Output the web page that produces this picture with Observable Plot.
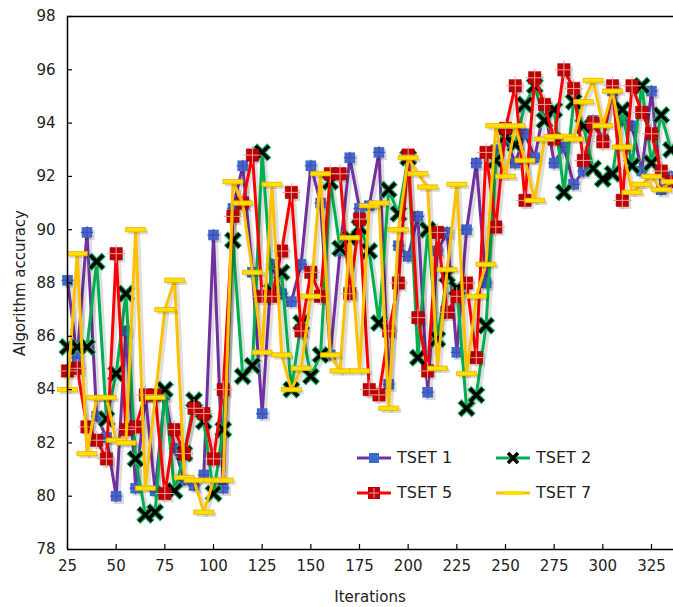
<!DOCTYPE html>
<html><head><meta charset="utf-8">
<script src="https://cdn.jsdelivr.net/npm/d3@7"></script>
<script src="https://cdn.jsdelivr.net/npm/@observablehq/plot@0.6"></script>
<style>
body{margin:0;background:#fff;}
#wrap{position:relative;width:673px;height:607px;overflow:hidden;font-family:"DejaVu Sans",Verdana,sans-serif;color:#222;}
.ttl{position:absolute;font-size:15px;white-space:nowrap;line-height:17px;}
#legend{position:absolute;left:355px;top:444px;font-size:16px;}
.li{position:absolute;display:flex;align-items:center;white-space:nowrap;}
.li svg{margin-right:4px;}
</style></head><body><div id="wrap"></div>
<script>
const iterations = [25,30,35,40,45,50,55,60,65,70,75,80,85,90,95,100,105,110,115,120,125,130,135,140,145,150,155,160,165,170,175,180,185,190,195,200,205,210,215,220,225,230,235,240,245,250,255,260,265,270,275,280,285,290,295,300,305,310,315,320,325,330,335];
const tset1 = [88.1,85.2,89.9,83.0,82.2,80.0,86.2,80.3,83.8,80.2,
  83.8,81.8,80.6,80.4,80.8,89.8,80.3,90.8,92.4,88.4,
  83.1,88.7,87.6,87.3,88.7,92.4,91.0,85.3,89.2,92.7,
  90.8,90.9,92.9,84.2,89.4,89.0,90.5,83.9,89.2,89.9,
  85.4,90.0,92.5,88.0,93.0,93.4,92.5,93.6,92.7,94.6,
  92.5,93.1,91.7,92.2,94.1,93.4,95.2,94.1,93.9,92.2,
  95.2,91.5,92.0];
const tset2 = [85.6,85.6,85.6,88.8,82.9,84.6,87.6,81.4,79.3,79.4,
  84.0,80.2,81.6,83.6,82.8,80.1,82.5,89.6,84.5,84.9,
  92.9,87.7,88.4,84.0,86.5,84.5,85.3,91.8,89.3,89.7,
  90.1,89.2,86.5,91.5,90.6,92.7,85.2,90.0,85.9,88.3,
  87.8,83.3,83.8,86.4,92.6,93.5,93.2,94.7,95.4,94.1,
  94.5,91.4,94.8,93.9,92.3,91.9,92.1,94.5,92.4,95.4,
  92.5,94.3,93.0];
const tset5 = [84.7,84.8,82.6,82.1,81.4,89.1,82.5,82.6,83.8,83.8,
  80.1,82.5,81.6,83.3,83.1,81.4,84.0,90.5,91.0,92.8,
  87.5,87.5,89.2,91.4,86.2,88.4,87.5,92.1,92.1,87.6,
  90.4,84.0,83.8,86.2,88.0,92.8,86.7,84.7,89.9,86.9,
  87.5,88.0,85.2,92.9,90.1,93.8,95.4,91.1,95.7,94.7,
  93.4,96.0,95.3,92.6,94.0,93.3,95.4,91.1,95.4,94.4,
  93.6,92.2,91.8];
const tset7 = [84.0,89.1,81.6,83.7,83.7,82.1,82.0,90.0,80.3,83.7,
  87.0,88.1,80.7,80.6,79.4,80.6,80.6,91.8,91.0,88.4,
  85.4,91.7,85.3,84.0,84.8,87.5,92.1,85.3,84.7,89.7,
  84.7,90.9,91.0,83.3,90.0,92.7,92.1,91.6,84.8,88.5,
  91.7,84.6,87.5,88.7,93.9,92.0,93.9,92.6,91.1,93.4,
  93.5,93.5,93.4,94.8,95.6,93.9,95.2,93.1,91.4,91.7,
  92.0,91.5,91.8];
const seriesNames = ["TSET 1","TSET 2","TSET 5","TSET 7"];
const yTicks = [78,80,82,84,86,88,90,92,94,96,98];
const xTicks = [25,50,75,100,125,150,175,200,225,250,275,300,325];
const xLabel = "Iterations";
const yLabel = "Algorithm accuracy";

const rows = s => iterations.map((it,i)=>({it, v:s[i]}));
const d1 = rows(tset1), d2 = rows(tset2), d5 = rows(tset5), d7 = rows(tset7);

const dash = {draw(ctx, size){ const w=10, h=2.2; ctx.moveTo(-w,-h); ctx.lineTo(w,-h); ctx.lineTo(w,h); ctx.lineTo(-w,h); ctx.closePath(); }};
const shadow = d => Plot.lineY(d, {x:"it", y:"v", stroke:"#000", strokeOpacity:0.13, strokeWidth:4, dx:2.5, dy:2.5});
const line = (d, c) => Plot.lineY(d, {x:"it", y:"v", stroke:c, strokeWidth:3});
const dotShadow = (d, sym, r) => Plot.dot(d, {x:"it", y:"v", symbol:sym, r, fill:"#000", fillOpacity:0.15, dx:2.5, dy:2.5});
const chart = Plot.plot({
  width: 673, height: 607,
  marginLeft: 67, marginRight: 0, marginTop: 16, marginBottom: 58,
  style: {fontFamily: '"DejaVu Sans", Verdana, sans-serif', fontSize: "15px", color: "#222", background: "white"},
  x: {domain: [25, 336.3], label: null},
  y: {domain: [78, 98], label: null},
  marks: [
    shadow(d1), line(d1, "#7030A0"),
    dotShadow(d1, "square", 6),
    Plot.dot(d1, {x:"it", y:"v", symbol:"square", r:6, fill:"#3A6CCB"}),
    Plot.dot(d1, {x:"it", y:"v", symbol:"plus", r:4, stroke:"#6040B0", strokeWidth:1.2}),
    shadow(d2), line(d2, "#00B050"),
    Plot.dot(d2, {x:"it", y:"v", symbol:"times", r:6.5, stroke:"#22B060", strokeWidth:6}),
    Plot.dot(d2, {x:"it", y:"v", symbol:"times", r:6, stroke:"#000", strokeWidth:3.5}),
    shadow(d5), line(d5, "#FF0000"),
    dotShadow(d5, "square", 7),
    Plot.dot(d5, {x:"it", y:"v", symbol:"square", r:7, fill:"#C00000", stroke:"#A00000", strokeWidth:0.5}),
    Plot.dot(d5, {x:"it", y:"v", symbol:"plus", r:6, stroke:"#E8A0A0", strokeWidth:1}),
    shadow(d7), line(d7, "#FFC000"),
    dotShadow(d7, dash, 5),
    Plot.dot(d7, {x:"it", y:"v", symbol:dash, fill:"#FFE000", stroke:"#E8B000", strokeWidth:0.8}),
    Plot.ruleY([98], {stroke:"#000", strokeWidth:1.5}),
    Plot.ruleY([78], {stroke:"#000", strokeWidth:1.5}),
    Plot.ruleX([25], {stroke:"#000", strokeWidth:1.5}),
    Plot.axisY({ticks: yTicks, tickSize: -5, tickPadding: 17, tickFormat: d=>String(d), stroke:"#000", strokeWidth:1.2, label:null}),
    Plot.axisX({ticks: xTicks, tickSize: -5, tickPadding: 16, tickFormat: d=>String(d), stroke:"#000", strokeWidth:1.2, label:null})
  ]
});
const wrap = document.getElementById("wrap");
wrap.appendChild(chart);

const t1 = document.createElement("div"); t1.className="ttl"; t1.textContent = xLabel;
t1.style.left="370px"; t1.style.top="589px"; t1.style.transform="translateX(-50%)"; wrap.appendChild(t1);
const t2 = document.createElement("div"); t2.className="ttl"; t2.textContent = yLabel;
t2.style.left="20px"; t2.style.top="283px"; t2.style.transform="translate(-50%,-50%) rotate(-90deg)"; wrap.appendChild(t2);

const sw = [
  `<line x1="0" y1="8" x2="34" y2="8" stroke="#7030A0" stroke-width="3"/><rect x="12" y="3" width="10" height="10" fill="#3A6CCB"/>`,
  `<line x1="0" y1="8" x2="34" y2="8" stroke="#00B050" stroke-width="3"/><path d="M12,3L22,13M22,3L12,13" stroke="#000" stroke-width="3.5"/>`,
  `<line x1="0" y1="8" x2="34" y2="8" stroke="#FF0000" stroke-width="3"/><rect x="11" y="2" width="12" height="12" fill="#C00000"/><path d="M17,3V13M12,8H22" stroke="#E8A0A0" stroke-width="1"/>`,
  `<line x1="0" y1="8" x2="34" y2="8" stroke="#FFC000" stroke-width="3"/><rect x="8" y="6" width="18" height="4" fill="#FFE000"/>`
];
const pos = [[2,14],[141,14],[2,49],[141,49]];
const lg = document.createElement("div"); lg.id="legend";
seriesNames.forEach((n,i)=>{
  const d = document.createElement("div"); d.className="li";
  d.style.left=pos[i][0]+"px"; d.style.top=(pos[i][1]-10)+"px";
  d.innerHTML = `<svg width="36" height="16">${sw[i]}</svg><span>${n}</span>`;
  lg.appendChild(d);
});
wrap.appendChild(lg);
</script></body></html>
